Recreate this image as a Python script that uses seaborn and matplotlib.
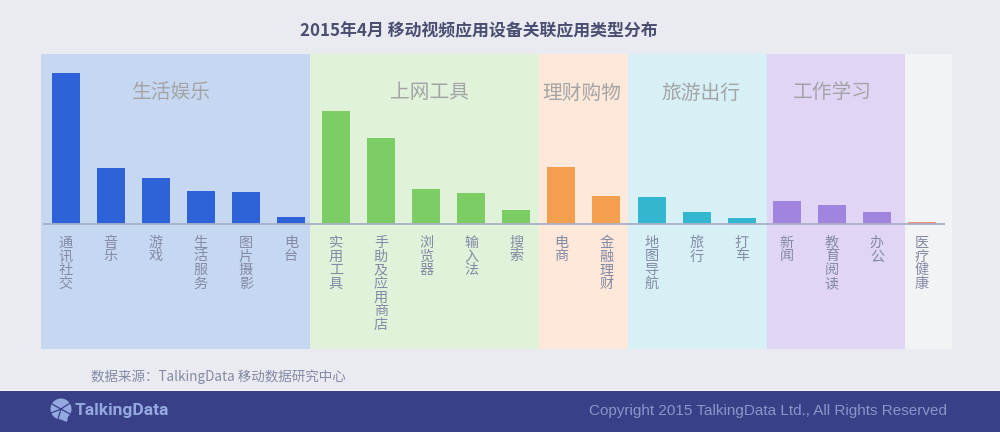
import matplotlib
matplotlib.use("Agg")
import matplotlib.pyplot as plt
from matplotlib.patches import Circle, Polygon, Rectangle
import pandas as pd
import seaborn as sns

sns.set_theme(style="white")
plt.rcParams['font.family'] = ['Noto Sans CJK SC', 'DejaVu Sans']

categories = ["通讯社交", "音乐", "游戏", "生活服务", "图片摄影", "电台",
              "实用工具", "手助及应用商店", "浏览器", "输入法", "搜索",
              "电商", "金融理财",
              "地图导航", "旅行", "打车",
              "新闻", "教育阅读", "办公",
              "医疗健康"]
values = [151.5, 56, 46.5, 33, 32.5, 7.5,
          113, 86, 35, 31, 14,
          57, 28,
          27, 12, 6.5,
          23, 19, 12.5,
          2]
groups = ["生活娱乐"] * 6 + ["上网工具"] * 5 + ["理财购物"] * 2 + ["旅游出行"] * 3 + ["工作学习"] * 3 + ["其他"]
group_names = ["生活娱乐", "上网工具", "理财购物", "旅游出行", "工作学习", "其他"]
group_labels = ["生活娱乐", "上网工具", "理财购物", "旅游出行", "工作学习", ""]
bar_colors = ["#2d62d8", "#7bcd64", "#f49e50", "#33b7d1", "#a183e0", "#f08f7c"]
band_colors = ["#c6d8f1", "#e0f2da", "#fde8d9", "#d6f0f6", "#e0d5f5", "#f2f3f4"]
band_edges_px = [41, 310, 539, 628, 767, 905, 952]
label_centers_px = [171, 429, 582, 701, 832]

W, H = 1000, 432
fig = plt.figure(figsize=(W / 100, H / 100), dpi=100, facecolor="#e9ebf1")

P_L, P_R, P_T, P_BASE, P_B = 41, 952, 54, 224, 349
ax = fig.add_axes([P_L / W, 1 - P_BASE / H, (P_R - P_L) / W, (P_BASE - P_T) / H])
ax.patch.set_visible(False)

step = 45.08
c0 = 65.5
def px2x(p):
    return (p - c0) / step

df = pd.DataFrame({"cat": categories, "val": values, "grp": groups})
sns.barplot(data=df, x="cat", y="val", hue="grp", hue_order=group_names,
            palette=bar_colors, dodge=False, width=28 / step, saturation=1,
            legend=False, ax=ax, zorder=3, linewidth=0)

ax.set_xlim(px2x(P_L), px2x(P_R))
ax.set_ylim(0, P_BASE - P_T)
below = -(P_B - P_BASE) / (P_BASE - P_T)
for i, c in enumerate(band_colors):
    ax.axvspan(px2x(band_edges_px[i]), px2x(band_edges_px[i + 1]), ymin=below, ymax=1,
               color=c, lw=0, zorder=0, clip_on=False)

ax.plot([px2x(43), px2x(945)], [0, 0], color="#a9b0c6", lw=1.3, zorder=4,
        solid_capstyle="butt", clip_on=False)

for s in ax.spines.values():
    s.set_visible(False)
ax.set_xlabel("")
ax.set_ylabel("")
ax.set_yticks([])
ax.set_xticks(range(len(categories)))
ax.set_xticklabels(["\n".join(c) for c in categories], fontsize=10.2, color="#858aa5",
                   va="top", ha="center", linespacing=0.97)
ax.tick_params(axis="x", length=0, pad=8.5)

for name, px in zip(group_labels, label_centers_px):
    if name:
        ax.text(px2x(px), 131, name, fontsize=14.2, color="#a4a4a6", ha="center", va="center",
                zorder=5, fontweight="medium")

fig.text(479 / W, 1 - 31 / H, "2015年4月 移动视频应用设备关联应用类型分布", fontsize=12.2,
         fontweight="bold", color="#4a4f72", ha="center", va="center")
fig.text(91 / W, 1 - 377 / H, "数据来源：TalkingData 移动数据研究中心", fontsize=9.75,
         color="#858aa5", ha="left", va="center")

# footer
fig.add_artist(Rectangle((0, 0), 1, 41 / H, transform=fig.transFigure, color="#394088", lw=0))
fig.add_artist(Rectangle((0, 41 / H), 1, 1.5 / H, transform=fig.transFigure, color="#f4f5f8", lw=0))
fig.text(947 / W, 1 - 411 / H, "Copyright 2015 TalkingData Ltd., All Rights Reserved",
         fontsize=11, family=["Liberation Sans"], color="#8896c8", ha="right", va="center",
         zorder=6)
fig.text(75 / W, 1 - 411 / H, "TalkingData", fontsize=12.5, fontweight="bold",
         family=["Roboto"], color="#93a9e0", ha="left", va="center", zorder=6)

# logo icon, in pixel coordinates
logo = fig.add_axes([0, 0, 1, 1], facecolor="none")
logo.set_zorder(5)
logo.set_xlim(0, W)
logo.set_ylim(H, 0)
logo.axis("off")
logo.add_patch(Circle((61, 409), 10.5, color="#93a9e0", lw=0))
logo.add_patch(Polygon([[60, 416], [68, 416], [67, 422], [62, 420]], color="#93a9e0", lw=0))
for dx, dy in [(-9, -5), (9, -6), (9, 5), (-3, 10), (-10, 4)]:
    logo.plot([61, 61 + dx], [409, 409 + dy], color="#394088", lw=0.9)

fig.savefig("out.png", dpi=100, facecolor=fig.get_facecolor())
